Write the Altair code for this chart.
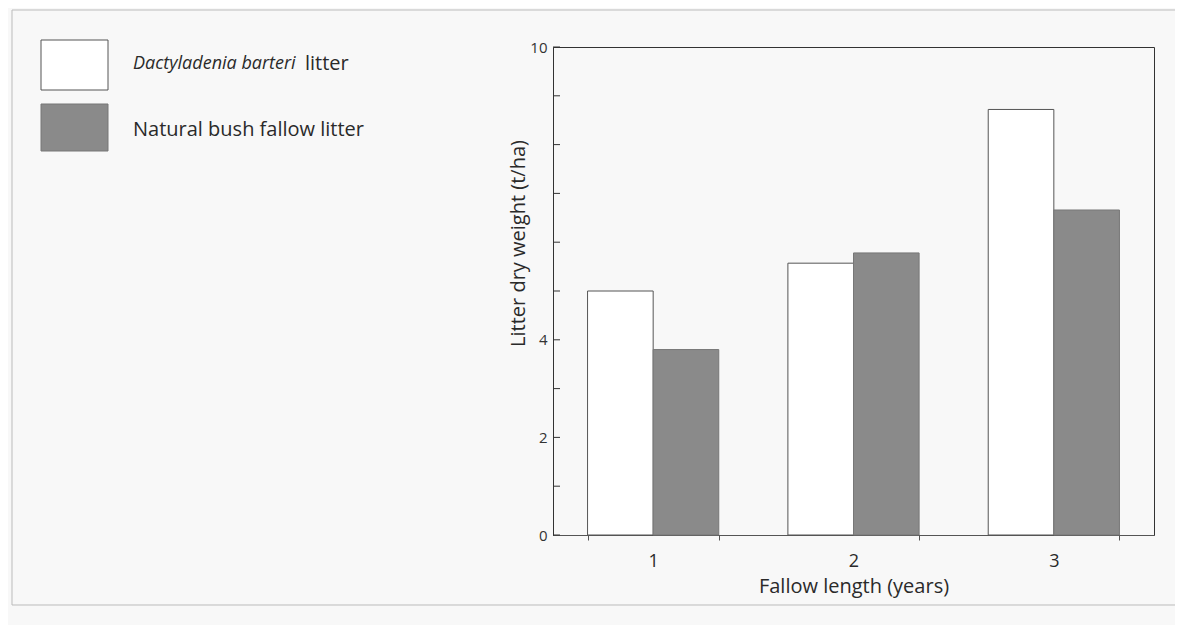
import altair as alt
import pandas as pd

# ---- data ----
fallow_years = ["1", "2", "3"]
series_names = ["Dactyladenia barteri litter", "Natural bush fallow litter"]
dactyladenia = [5.0, 5.57, 8.72]
natural_bush = [3.80, 5.78, 6.66]
y_tick_values = [0, 1, 2, 3, 4, 5, 6, 7, 8, 9, 10]
y_labelled = [0, 2, 4, 10]

rows = []
for i, yr in enumerate(fallow_years):
    rows.append({"Fallow": yr, "Series": series_names[0], "value": dactyladenia[i]})
    rows.append({"Fallow": yr, "Series": series_names[1], "value": natural_bush[i]})
df = pd.DataFrame(rows)
ticks_df = pd.DataFrame({"t": y_tick_values})
one = pd.DataFrame({"k": [0]})

FONT = "Open Sans"
WHITE_FILL = "#ffffff"
GRAY_FILL = "#8a8a8a"
TXT = "#2a2a2a"

y_axis = alt.Axis(
    values=y_tick_values,
    labelExpr="indexof([" + ",".join(str(v) for v in y_labelled) + "], datum.value) >= 0 ? datum.label : ''",
    ticks=False,
    grid=False,
    domainColor="#333",
    labelColor="#333",
    labelFontSize=15,
    labelPadding=6,
    labelFont=FONT,
    title="Litter dry weight (t/ha)",
    titleFont=FONT,
    titleFontSize=20,
    titleFontWeight="normal",
    titleColor=TXT,
    titleX=-25,
    titleY=196,
    titleAlign="center",
    titleBaseline="bottom",
)
y_enc_scale = alt.Scale(domain=[0, 10], nice=False)

bars = alt.Chart(df).mark_bar(strokeWidth=1).encode(
    x=alt.X(
        "Fallow:N",
        sort=fallow_years,
        scale=alt.Scale(paddingInner=0.345, paddingOuter=0.1725),
        axis=alt.Axis(
            labelAngle=0,
            tickBand="extent",
            tickSize=5,
            tickColor="#555",
            domainColor="#555",
            labelColor=TXT,
            labelFontSize=18,
            labelFont=FONT,
            labelPadding=12,
            title="Fallow length (years)",
            titleFont=FONT,
            titleFontSize=20,
            titleFontWeight="normal",
            titleColor=TXT,
            titlePadding=6,
        ),
    ),
    xOffset=alt.XOffset("Series:N", sort=series_names, scale=alt.Scale(paddingInner=0, paddingOuter=0)),
    y=alt.Y("value:Q", scale=y_enc_scale, axis=y_axis),
    fill=alt.Fill("Series:N", scale=alt.Scale(domain=series_names, range=[WHITE_FILL, GRAY_FILL]), legend=None),
    stroke=alt.Stroke("Series:N", scale=alt.Scale(domain=series_names, range=["#555", "#777"]), legend=None),
)

inner_ticks = alt.Chart(ticks_df).mark_rule(color="#333", strokeWidth=1).encode(
    x=alt.value(0), x2=alt.value(7),
    y=alt.Y("t:Q", scale=y_enc_scale, axis=y_axis),
)

# page frame
frame = alt.Chart(one).mark_rect(fill=None, stroke="#bbbbbb", strokeWidth=1).encode(
    x=alt.value(-541), x2=alt.value(640), y=alt.value(-37), y2=alt.value(558)
)

# legend
sw1 = alt.Chart(one).mark_rect(fill=WHITE_FILL, stroke="#555", strokeWidth=1).encode(
    x=alt.value(-512), x2=alt.value(-445), y=alt.value(-7), y2=alt.value(43)
)
sw2 = alt.Chart(one).mark_rect(fill=GRAY_FILL, stroke="#777", strokeWidth=1).encode(
    x=alt.value(-512), x2=alt.value(-445), y=alt.value(57), y2=alt.value(104)
)
t1a = alt.Chart(one).mark_text(
    text="Dactyladenia barteri", font=FONT, fontSize=18, fontStyle="italic",
    align="left", baseline="middle", color=TXT,
).encode(x=alt.value(-420), y=alt.value(17))
t1b = alt.Chart(one).mark_text(
    text="litter", font=FONT, fontSize=20, align="left", baseline="middle", color=TXT,
).encode(x=alt.value(-248), y=alt.value(17))
t2 = alt.Chart(one).mark_text(
    text="Natural bush fallow litter", font=FONT, fontSize=20, align="left", baseline="middle", color=TXT,
).encode(x=alt.value(-420), y=alt.value(83))

chart = alt.layer(frame, bars, inner_ticks, sw1, sw2, t1a, t1b, t2).properties(
    width=601,
    height=488,
    autosize=alt.AutoSizeParams(type="none"),
    padding={"left": 545, "top": 39, "right": 21, "bottom": 90},
    background="#f8f8f8",
).configure_view(stroke="#333", strokeWidth=1)

chart.save("out.html", embed_options={"renderer": "svg", "actions": False})
